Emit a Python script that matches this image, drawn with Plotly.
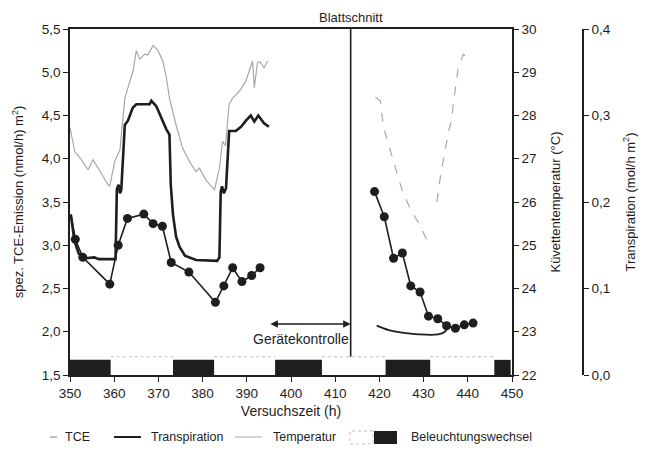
import plotly.graph_objects as go

# ---------------- data ----------------
# TCE emission (nmol/h m2), left axis
tce_start_t = [350.2, 351.2]
tce_start_v = [3.36, 3.07]
tce_left_t = [351.2, 352.9, 359.0, 360.9, 363.0, 366.7, 368.8, 370.9, 372.9,
              376.9, 382.9, 384.8, 386.8, 388.9, 391.1, 393.0]
tce_left_v = [3.07, 2.86, 2.55, 3.00, 3.31, 3.36, 3.25, 3.22, 2.80,
              2.69, 2.34, 2.53, 2.74, 2.58, 2.65, 2.74]
tce_right_t = [418.9, 421.1, 423.2, 425.2, 427.1, 429.2, 431.1, 433.2, 435.2, 437.2, 439.2, 441.2]
tce_right_v = [3.62, 3.33, 2.85, 2.91, 2.53, 2.46, 2.18, 2.15, 2.07, 2.04, 2.08, 2.10]

# Transpiration (mol/h m2), far right axis
tr_left_t = [350.2, 351.0, 352.0, 353.5, 355.5, 356.5, 359.8, 360.3, 360.6, 361.0, 361.3, 361.6,
             362.4, 363.1, 364.2, 365.0, 368.0, 368.4, 369.5, 371.8, 372.5, 372.8, 373.3,
             374.0, 374.8, 376.0, 378.5, 383.3, 383.8, 384.1, 384.4, 384.8, 385.3, 386.0,
             387.5, 388.7, 389.8, 390.9, 391.7, 392.6, 393.9, 395.0]
tr_left_v = [0.185, 0.155, 0.140, 0.135, 0.136, 0.134, 0.134, 0.134, 0.215, 0.220, 0.210, 0.214,
             0.289, 0.294, 0.309, 0.313, 0.313, 0.317, 0.311, 0.284, 0.278, 0.220, 0.185,
             0.160, 0.148, 0.138, 0.133, 0.132, 0.136, 0.212, 0.218, 0.210, 0.216, 0.282,
             0.282, 0.287, 0.294, 0.300, 0.293, 0.300, 0.291, 0.287]
tr_right_t = [419.4, 422.1, 425.1, 428.8, 433.3, 434.8, 435.5]
tr_right_v = [0.057, 0.052, 0.049, 0.047, 0.047, 0.050, 0.055]

# Cuvette temperature (deg C), right axis
temp_left_t = [350.0, 350.5, 351.1, 352.6, 354.1, 355.2, 356.8, 358.6, 359.0, 360.1, 361.3,
               362.4, 363.1, 364.3, 365.0, 365.8, 366.9, 367.6, 368.8, 369.9, 371.0, 371.8,
               372.5, 374.0, 375.5, 377.0, 378.5, 379.3, 380.8, 382.7, 383.8, 384.5, 385.2,
               386.0, 386.8, 388.3, 389.8, 390.9, 391.3, 391.7, 392.4, 393.0, 393.9, 394.7]
temp_left_v = [27.72, 27.48, 27.16, 26.98, 26.74, 26.98, 26.70, 26.40, 26.36, 26.94, 27.20,
               28.40, 28.64, 29.04, 29.50, 29.30, 29.42, 29.40, 29.62, 29.50, 29.26, 28.88,
               28.40, 27.78, 27.24, 26.94, 26.70, 26.78, 26.50, 26.28, 26.78, 27.40, 27.30,
               28.26, 28.40, 28.56, 28.80, 29.14, 29.26, 28.64, 29.22, 29.24, 29.10, 29.26]
temp_right_t = [419.1, 420.2, 420.9, 422.1, 423.6, 425.1, 427.0, 429.2, 431.1, None,
                433.0, 433.9, 435.6, 436.3, 437.1, 437.8, 439.0, 439.9, 440.5]
temp_right_v = [28.42, 28.34, 27.74, 27.32, 26.78, 26.28, 25.84, 25.46, 25.04, None,
                26.00, 26.66, 27.60, 27.90, 28.56, 29.08, 29.42, 29.30, 29.26]

# light/dark periods (h)
dark_start = [350.0, 373.3, 396.4, 421.4, 446.0]
dark_end = [359.2, 382.6, 407.0, 431.5, 449.7]

leaf_cut_t = 413.5
control_start, control_end = 395.0, 413.5

x_ticks = [350, 360, 370, 380, 390, 400, 410, 420, 430, 440, 450]

# ---------------- figure ----------------
FONT = "Liberation Sans, Arial, sans-serif"
INK = "#1e1e1e"
GRAY = "#a8a8a8"

fig = go.Figure()
fig.add_trace(go.Scatter(x=temp_left_t, y=temp_left_v, yaxis="y2", mode="lines",
                         line=dict(color=GRAY, width=1.2), showlegend=False))
fig.add_trace(go.Scatter(x=temp_right_t, y=temp_right_v, yaxis="y2", mode="lines",
                         line=dict(color=GRAY, width=1.2, dash="dash"), showlegend=False))
fig.add_trace(go.Scatter(x=tr_left_t, y=tr_left_v, yaxis="y3", mode="lines",
                         line=dict(color=INK, width=2.6), showlegend=False))
fig.add_trace(go.Scatter(x=tr_right_t, y=tr_right_v, yaxis="y3", mode="lines",
                         line=dict(color=INK, width=1.8, shape="spline"), showlegend=False))
fig.add_trace(go.Scatter(x=tce_start_t, y=tce_start_v, mode="lines",
                         line=dict(color=INK, width=1.6), showlegend=False))
for tt, vv in [(tce_left_t, tce_left_v), (tce_right_t, tce_right_v)]:
    fig.add_trace(go.Scatter(x=tt, y=vv, mode="lines+markers",
                             line=dict(color=INK, width=1.6),
                             marker=dict(color=INK, size=9, opacity=1,
                                         line=dict(color=INK, width=0)),
                             showlegend=False))

shapes = []
for s, e in zip(dark_start, dark_end):
    shapes.append(dict(type="rect", xref="x", yref="y", x0=s, x1=e, y0=1.5, y1=1.675,
                       fillcolor=INK, line=dict(width=0), layer="above"))
for e, s in zip(dark_end[:-1], dark_start[1:]):
    shapes.append(dict(type="line", xref="x", yref="y", x0=e, x1=s, y0=1.71, y1=1.71,
                       line=dict(color="#bbbbbb", width=1, dash="dot")))
shapes.append(dict(type="line", xref="x", yref="y", x0=leaf_cut_t, x1=leaf_cut_t,
                   y0=1.71, y1=5.5, line=dict(color=INK, width=1.6)))

# legend drawn below the axis (paper coords)
W, H, L, T = 574.0, 346.0, 70.0, 29.0
def px(x):
    return (x - L) / W
def py(y):
    return (T + H - y) / H
ly = py(437)
shapes += [
    dict(type="line", xref="paper", yref="paper", x0=px(50), x1=px(57), y0=ly, y1=ly,
         line=dict(color=GRAY, width=1.5)),
    dict(type="line", xref="paper", yref="paper", x0=px(114), x1=px(141), y0=ly, y1=ly,
         line=dict(color=INK, width=2)),
    dict(type="line", xref="paper", yref="paper", x0=px(235), x1=px(262), y0=ly, y1=ly,
         line=dict(color=GRAY, width=1)),
    dict(type="rect", xref="paper", yref="paper", x0=px(350), x1=px(373), y0=py(444), y1=py(431),
         fillcolor="white", line=dict(color="#c0c0c0", width=1, dash="dot")),
    dict(type="rect", xref="paper", yref="paper", x0=px(374), x1=px(397), y0=py(444), y1=py(431),
         fillcolor=INK, line=dict(width=0)),
]

ann = [
    dict(text="Blattschnitt", x=leaf_cut_t, xref="x", y=1.0, yref="paper",
         yanchor="bottom", xanchor="center", yshift=2, showarrow=False,
         font=dict(size=13, color=INK)),
    dict(x=control_end, y=2.09, xref="x", yref="y", ax=control_start, ay=2.09,
         axref="x", ayref="y", showarrow=True, arrowhead=2, arrowside="end+start",
         arrowsize=1, arrowwidth=1.5, arrowcolor=INK, text=""),
    dict(text="Gerätekontrolle", x=control_end, y=1.92, xref="x", yref="y",
         xanchor="right", yanchor="middle", showarrow=False, font=dict(size=14, color=INK)),
]
for label, xx in [("TCE", 63), ("Transpiration", 149), ("Temperatur", 271),
                  ("Beleuchtungswechsel", 409)]:
    ann.append(dict(text=label, x=px(xx), y=ly, xref="paper", yref="paper",
                    xanchor="left", yanchor="middle", showarrow=False,
                    font=dict(size=12.5, color=INK)))

axis_common = dict(showgrid=False, zeroline=False, showline=True, linecolor=INK,
                   linewidth=1.6, ticks="outside", ticklen=5, tickwidth=1.4,
                   tickcolor=INK, tickfont=dict(size=13.5, color=INK), automargin=False)

fig.update_layout(
    width=649, height=451,
    margin=dict(l=70, r=5, t=29, b=76),
    paper_bgcolor="white", plot_bgcolor="white",
    font=dict(family=FONT, color=INK),
    separators=",.",
    showlegend=False,
    xaxis=dict(domain=[0, 442 / W], range=[350, 450], tickvals=x_ticks, mirror=True,
               title=dict(text="Versuchszeit (h)", font=dict(size=14), standoff=6),
               **axis_common),
    yaxis=dict(range=[1.5, 5.5], dtick=0.5, tick0=1.5, tickformat=".1f",
               title=dict(text="spez. TCE-Emission (nmol/h) m<sup>2</sup>)", font=dict(size=13)),
               **axis_common),
    yaxis2=dict(range=[22, 30], dtick=1, tick0=22, overlaying="y", side="right", anchor="x",
                title=dict(text="Küvettentemperatur (°C)", font=dict(size=13)),
                **axis_common),
    yaxis3=dict(range=[0, 0.4], dtick=0.1, tick0=0, tickformat=".1f", overlaying="y",
                side="right", anchor="free", position=(583 - L) / W,
                title=dict(text="Transpiration (mol/h m<sup>2</sup>)", font=dict(size=13)),
                **axis_common),
    shapes=shapes,
    annotations=ann,
)

fig.write_html("out.html")
